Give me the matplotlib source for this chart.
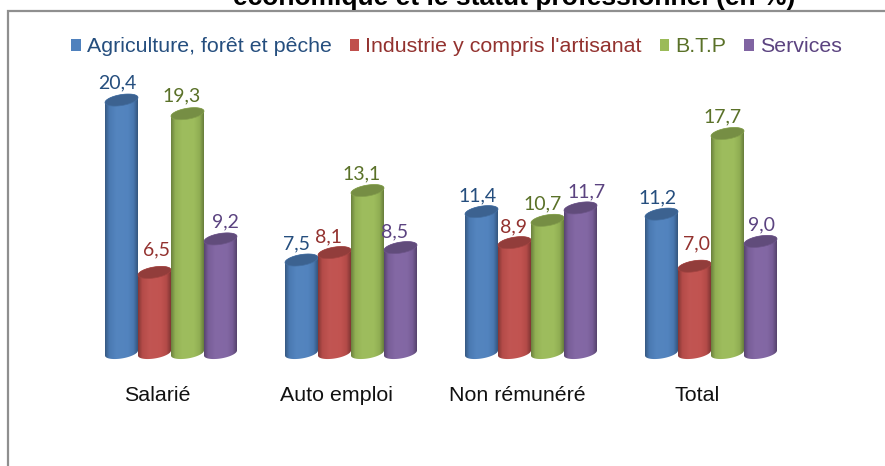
import numpy as np
import matplotlib
matplotlib.use("Agg")
import matplotlib.pyplot as plt
from matplotlib.patches import Patch, Rectangle, Polygon
from matplotlib.colors import LinearSegmentedColormap, to_rgb
from matplotlib.transforms import ScaledTranslation

categories = ["Salarié", "Auto emploi", "Non rémunéré", "Total"]
series_names = ["Agriculture, forêt et pêche", "Industrie y compris l'artisanat", "B.T.P", "Services"]
agriculture = [20.4, 7.5, 11.4, 11.2]
industrie = [6.5, 8.1, 8.9, 7.0]
btp = [19.3, 13.1, 10.7, 17.7]
services = [9.2, 8.5, 11.7, 9.0]
all_series = [agriculture, industrie, btp, services]

colors = ["#4F81BD", "#C0504D", "#9BBB59", "#8064A2"]
text_colors = ["#254E7E", "#93322F", "#5A7128", "#5B4380"]
label_dx = [[-4.5, -4.5, -4, -4], [1.5, -5.5, -1, 2], [-5.5, -5.5, -5, -5], [4.5, -5.5, 6, 1]]
label_dy = [[19, 18, 17.6, 18], [24, 17.6, 17.6, 24], [19, 18.6, 18, 18.5], [19, 17.6, 18, 18]]

W, H = 885, 466
fig = plt.figure(figsize=(W / 100, H / 100), dpi=100, facecolor="white")
PX_PER_UNIT = 12.4
y0_px = 353
x_left, x_right = 81, 801
ymax = 22
ax = fig.add_axes([x_left / W, 1 - y0_px / H, (x_right - x_left) / W, ymax * PX_PER_UNIT / H])
ax.set_xlim(-0.5, 3.5)
ax.set_ylim(0, ymax)
ax.patch.set_alpha(0)
for s in ax.spines.values():
    s.set_visible(False)
ax.set_yticks([])
ax.set_xticks(range(4))
ax.set_xticklabels(categories, fontfamily="Liberation Sans", fontsize=15.4, color="#111111")
ax.tick_params(axis="x", length=0, pad=23.7)
shift = ScaledTranslation(-14 / 100, 0, fig.dpi_scale_trans)
for lab in ax.get_xticklabels():
    lab.set_transform(lab.get_transform() + shift)

fig.add_artist(Rectangle((8 / W, -0.1), 1.1, 1 - 11 / H + 0.1, transform=fig.transFigure,
                         fill=False, ec="#8f8f8f", lw=1.6))
fig.text(514 / W, 1 - 5 / H, "économique et le statut professionnel (en %)", ha="center", va="baseline",
         fontfamily="Liberation Sans", fontweight="bold", fontsize=19, color="black")

bw_px = 33
dx = bw_px / (x_right - x_left) * 4
hy = 5.5 / PX_PER_UNIT
sk = 2.5 / PX_PER_UNIT
t = np.linspace(0, 2 * np.pi, 90)

def mix(c, k):
    r = np.array(to_rgb(c))
    return tuple(r * k) if k <= 1 else tuple(r + (1 - r) * (k - 1))

for i, (vals, c, tc) in enumerate(zip(all_series, colors, text_colors)):
    cmap = LinearSegmentedColormap.from_list(
        "c", [(0, mix(c, .70)), (.12, mix(c, .94)), (.35, mix(c, 1.03)), (.7, mix(c, 1.02)),
              (.88, mix(c, .93)), (1, mix(c, .68))])
    grad = np.linspace(0, 1, 40)[None, :]
    for j, v in enumerate(vals):
        cx = j + (i - 1.5) * dx
        hw = dx / 2
        tb = np.linspace(np.pi, 2 * np.pi, 40)
        bx = cx + hw * np.cos(tb)
        by = hy * np.sin(tb) + sk * np.cos(tb)
        tt = np.linspace(0, np.pi, 40)
        ux = cx + hw * np.cos(tt)
        uy = v + hy * np.sin(tt) + sk * np.cos(tt)
        body = Polygon(np.c_[np.r_[bx, ux], np.r_[by, uy]], closed=True, fc="none", ec="none",
                       zorder=3 + i * .1, clip_on=False)
        ax.add_patch(body)
        im = ax.imshow(grad, extent=(cx - hw, cx + hw, -1, v + 1), aspect="auto", cmap=cmap,
                       zorder=3 + i * .1, interpolation="bilinear")
        im.set_clip_box(fig.bbox)
        im.set_clip_path(body)
        top = Polygon(np.c_[cx + hw * np.cos(t), v + hy * np.sin(t) + sk * np.cos(t)], closed=True,
                      fc=mix(c, .76), ec=mix(c, .85), lw=.5, zorder=3.05 + i * .1, clip_on=False)
        ax.add_patch(top)
        ax.annotate(f"{v:.1f}".replace(".", ","), (cx, v),
                    xytext=(label_dx[i][j] * .72, (label_dy[i][j] - 1.5) * .72),
                    textcoords="offset points", ha="center", va="center", fontfamily="Lato",
                    fontsize=14, color=tc, zorder=6)
ax.set_xlim(-0.5, 3.5)
ax.set_ylim(0, ymax)

handles = [Patch(fc=c, ec="none") for c in colors]
leg = fig.legend(handles, series_names, loc="center", bbox_to_anchor=(456.5 / W, 1 - 47 / H),
                 ncol=4, frameon=False, prop={"family": "Liberation Sans", "size": 15.4},
                 handlelength=.44, handleheight=.44, handletextpad=.28, columnspacing=.85,
                 borderpad=0, borderaxespad=0, labelcolor=text_colors)
fig.savefig("out.png", dpi=100)
